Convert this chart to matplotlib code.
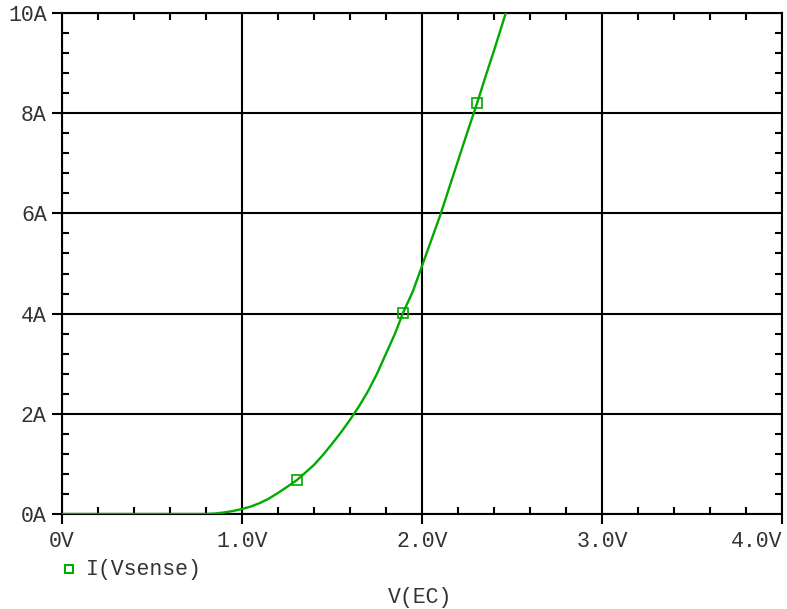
import matplotlib.pyplot as plt
from matplotlib.ticker import MultipleLocator, FuncFormatter

# Sweep of V(EC) and the sensed current
v_ec = [0.0, 0.2, 0.4, 0.6, 0.8, 0.85, 0.9, 0.95, 1.0, 1.05, 1.1, 1.15, 1.2,
        1.25, 1.306, 1.35, 1.4, 1.45, 1.5, 1.55, 1.6, 1.65, 1.7, 1.75, 1.8,
        1.85, 1.894, 1.95, 2.0, 2.05, 2.1, 2.15, 2.2, 2.25, 2.306, 2.35, 2.4,
        2.47]
i_sense = [0.0, 0.0, 0.0, 0.0, 0.0, 0.01, 0.03, 0.06, 0.1, 0.15, 0.22, 0.31,
           0.42, 0.54, 0.68, 0.82, 0.98, 1.18, 1.4, 1.63, 1.88, 2.15, 2.45,
           2.8, 3.2, 3.6, 4.01, 4.45, 4.95, 5.45, 5.95, 6.5, 7.05, 7.6, 8.2,
           8.7, 9.25, 10.05]
marker_idx = [14, 26, 34]

green = '#00aa00'
mono = 'Liberation Mono'
text_color = '#333333'
fs = 15.5


def vlabel(x, pos):
    if x == 0:
        return '0V'
    if x >= 4:
        return ''  # drawn separately so it stays inside the figure
    return f'{x:.1f}V'


def main():
    plt.rcParams['font.family'] = mono
    fig = plt.figure(figsize=(7.87, 6.09), dpi=100)
    ax = fig.add_axes([62 / 787, 95 / 609, 720 / 787, 501 / 609])

    ax.plot(v_ec, i_sense, color=green, lw=1.7, marker='s', markevery=marker_idx,
            markersize=7, markerfacecolor='none', markeredgecolor=green,
            markeredgewidth=1.2, zorder=3)

    ax.set_xlim(0, 4)
    ax.set_ylim(0, 10)
    ax.xaxis.set_major_locator(MultipleLocator(1))
    ax.xaxis.set_minor_locator(MultipleLocator(0.2))
    ax.yaxis.set_major_locator(MultipleLocator(2))
    ax.yaxis.set_minor_locator(MultipleLocator(0.4))
    ax.xaxis.set_major_formatter(FuncFormatter(vlabel))
    ax.yaxis.set_major_formatter(FuncFormatter(lambda y, p: f'{y:.0f}A'))

    ax.grid(which='major', color='black', lw=1.5)
    for s in ax.spines.values():
        s.set_linewidth(1.5)
    ax.tick_params(which='major', direction='out', length=7, width=1.5,
                   labelsize=fs, labelcolor=text_color, pad=5)
    ax.tick_params(which='minor', direction='in', length=5, width=1.5,
                   top=True, right=True)
    ax.tick_params(axis='y', which='major', pad=4)

    # last x label, right-aligned at the axis end
    ax.annotate('4.0V', xy=(4, 0), xycoords=('data', 'axes fraction'),
                xytext=(0, -12), textcoords='offset points', ha='right',
                va='top', fontsize=fs, color=text_color)

    # Legend entry below the axes
    fig.lines.append(plt.Line2D([69 / 787], [1 - 569 / 609], marker='s',
                                markersize=6, markerfacecolor='none',
                                markeredgecolor=green, markeredgewidth=1.5,
                                transform=fig.transFigure))
    fig.text(86 / 787, 1 - 569 / 609, 'I(Vsense)', fontsize=fs,
             color=text_color, va='center', ha='left')
    fig.text(420 / 787, 1 - 597 / 609, 'V(EC)', fontsize=fs,
             color=text_color, va='center', ha='center')

    fig.savefig('out.png', dpi=100)


if __name__ == "__main__":
    main()
